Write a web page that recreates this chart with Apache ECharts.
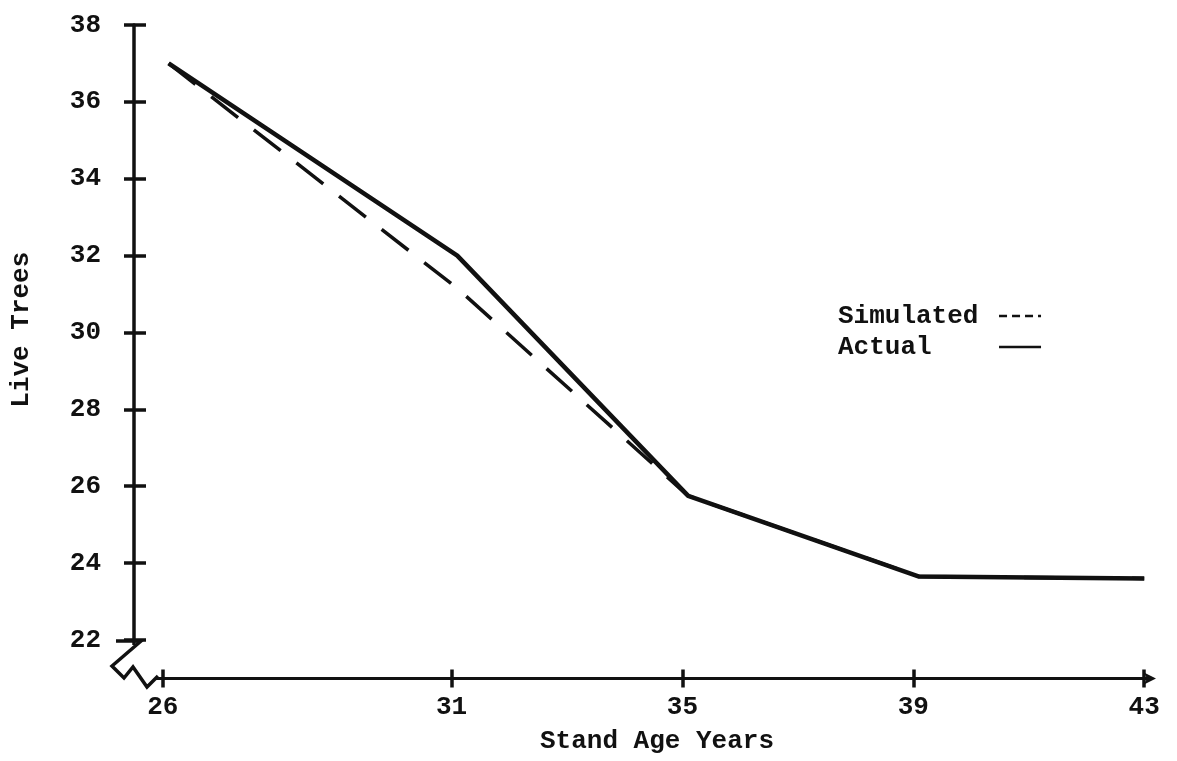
<!DOCTYPE html>
<html>
<head>
<meta charset="utf-8">
<script src="https://cdn.jsdelivr.net/npm/echarts@6/dist/echarts.min.js"></script>
<style>
html,body{margin:0;padding:0;background:#fff;}
#chart{width:1177px;height:761px;}
</style>
</head>
<body>
<div id="chart"></div>
<script>
// Data
const ages = [26.1, 31.1, 35.1, 39.1, 43.0];
const actualTrees = [37.0, 32.0, 25.75, 23.65, 23.6];
const simulatedTrees = [37.0, 31.15, 25.75, 23.65, 23.6];
const xTickValues = [26, 31, 35, 39, 43];
const yTickValues = [22, 24, 26, 28, 30, 32, 34, 36, 38];

const FONT = '"Liberation Mono", "DejaVu Sans Mono", monospace';
const INK = '#111';

const chart = echarts.init(document.getElementById('chart'), null, {renderer: 'canvas'});

const pairs = (xs, ys) => xs.map((x, i) => [x, ys[i]]);

const option = {
  backgroundColor: '#ffffff',
  animation: false,
  textStyle: {fontFamily: FONT, color: INK},
  grid: {left: 130, top: 25, right: 27, bottom: 82.6},
  legend: {
    orient: 'vertical',
    left: 833,
    top: 298,
    align: 'right',
    itemWidth: 42,
    itemHeight: 14,
    itemGap: 5,
    itemStyle: {opacity: 0},
    data: [
      {name: 'Simulated', lineStyle: {type: [8, 5], width: 2.5, color: INK}},
      {name: 'Actual', lineStyle: {type: 'solid', width: 2.5, color: INK}}
    ],
    formatter: name => name.padEnd(10, ' '),
    textStyle: {fontFamily: FONT, fontSize: 26, fontWeight: 'bold', color: INK}
  },
  xAxis: [
    {
      type: 'value', min: 25.5, max: 43.1, position: 'bottom',
      name: 'Stand Age Years', nameLocation: 'middle', nameGap: 50,
      nameTextStyle: {fontFamily: FONT, fontSize: 26, fontWeight: 'bold', color: INK, padding: [0, 0, 0, 30]},
      splitLine: {show: false},
      axisLine: {show: true, lineStyle: {color: INK, width: 3}, symbol: ['none', 'arrow'], symbolSize: [9, 12], symbolOffset: [0, 6]},
      axisTick: {show: true, inside: false, length: 9, lineStyle: {color: INK, width: 3.5}, customValues: xTickValues},
      axisLabel: {show: true, margin: 16, fontFamily: FONT, fontSize: 26, fontWeight: 'bold', color: INK, customValues: xTickValues}
    },
    {
      type: 'value', min: 25.5, max: 43.1, position: 'bottom', offset: 0,
      splitLine: {show: false},
      axisLine: {show: false},
      axisTick: {show: true, inside: true, length: 9, lineStyle: {color: INK, width: 3.5}, customValues: xTickValues},
      axisLabel: {show: false}
    }
  ],
  yAxis: [
    {
      type: 'value', min: 21, max: 38, position: 'left',
      name: 'Live Trees', nameLocation: 'middle', nameGap: 100, nameRotate: 90,
      nameTextStyle: {fontFamily: FONT, fontSize: 26, fontWeight: 'bold', color: INK, padding: [0, 0, 0, 44]},
      splitLine: {show: false},
      axisLine: {show: true, lineStyle: {color: INK, width: 3.5}},
      axisTick: {show: true, inside: false, length: 10, lineStyle: {color: INK, width: 3.5}, customValues: yTickValues},
      axisLabel: {show: true, margin: 33, fontFamily: FONT, fontSize: 26, fontWeight: 'bold', color: INK, customValues: yTickValues}
    },
    {
      type: 'value', min: 21, max: 38, position: 'left', offset: 0,
      splitLine: {show: false},
      axisLine: {show: false},
      axisTick: {show: true, inside: true, length: 12, lineStyle: {color: INK, width: 3.5}, customValues: yTickValues},
      axisLabel: {show: false}
    }
  ],
  series: [
    {
      name: 'Simulated', type: 'line', xAxisIndex: 0, yAxisIndex: 0,
      data: pairs(ages, simulatedTrees),
      symbol: 'none', z: 2,
      lineStyle: {color: INK, width: 3.5, type: [34, 20]},
      itemStyle: {color: INK}
    },
    {
      name: 'Actual', type: 'line', xAxisIndex: 0, yAxisIndex: 0,
      data: pairs(ages, actualTrees),
      symbol: 'none', z: 3,
      lineStyle: {color: INK, width: 4.5, type: 'solid'},
      itemStyle: {color: INK}
    }
  ],
  graphic: [
    {type: 'rect', z: 100, shape: {x: 108, y: 645, width: 47, height: 43}, style: {fill: '#ffffff'}},
    {type: 'polyline', z: 101, shape: {points: [[116, 641], [141, 641], [112, 666], [124, 678], [133, 667], [147, 687], [158, 676]]},
      style: {stroke: INK, lineWidth: 3.5, fill: null}}
  ]
};

chart.setOption(option);
</script>
</body>
</html>
